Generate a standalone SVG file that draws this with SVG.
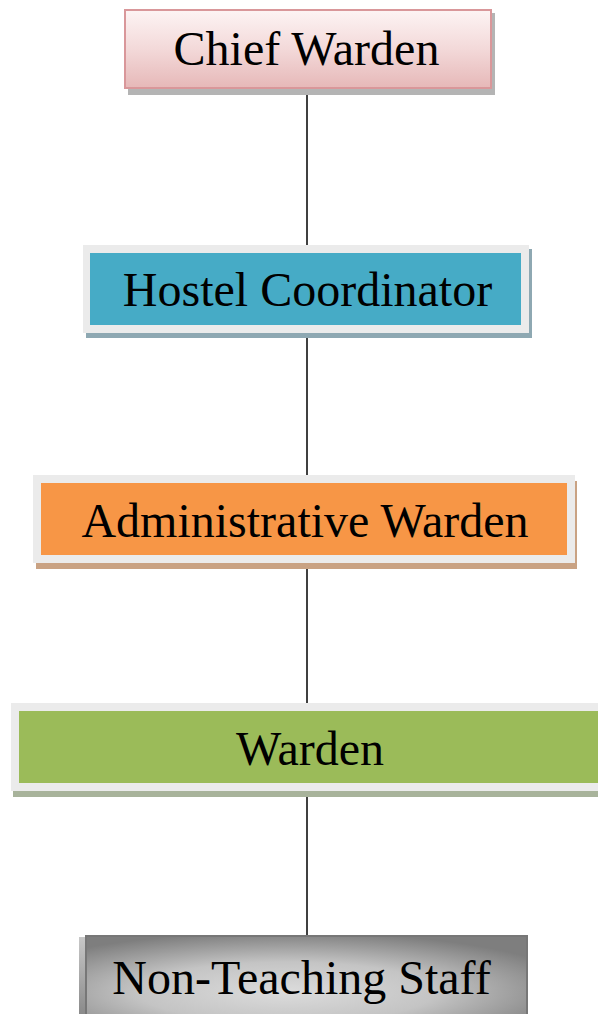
<svg xmlns="http://www.w3.org/2000/svg" width="598" height="1014" viewBox="0 0 598 1014">
<defs>
<linearGradient id="pink" x1="0" y1="0" x2="0" y2="1">
<stop offset="0" stop-color="#fdf4f4"/>
<stop offset="0.5" stop-color="#f3d9d9"/>
<stop offset="1" stop-color="#e6b8b8"/>
</linearGradient>
<radialGradient id="gray" cx="0.45" cy="0.7" r="0.75" gradientTransform="translate(0.05 0) scale(0.9 1)">
<stop offset="0" stop-color="#dcdcdc"/>
<stop offset="0.5" stop-color="#c4c4c4"/>
<stop offset="1" stop-color="#7e7e7e"/>
</radialGradient>
<linearGradient id="grayside" x1="0" y1="0" x2="0" y2="1">
<stop offset="0" stop-color="#c8c8c8"/>
<stop offset="1" stop-color="#8a8a8a"/>
</linearGradient>
</defs>
<style>
.lbl{font-family:"Liberation Serif","Times New Roman",serif;font-size:48px;fill:#000;text-anchor:middle}
.frame{fill:#ebebeb}
.conn{stroke:#000;stroke-width:1.5;fill:none}
</style>
<g id="connectors">
<line class="conn" x1="307" y1="88" x2="307" y2="937"/>
</g>
<g id="chief-warden">
<rect x="128" y="13" width="367" height="82" fill="#b4b4b4"/>
<rect x="125" y="10" width="366" height="78" fill="url(#pink)" stroke="#d9979a" stroke-width="2"/>
<text class="lbl" x="306.5" y="65">Chief Warden</text>
</g>
<g id="hostel-coordinator">
<rect x="86" y="249" width="446" height="89" fill="#8ea8b2"/>
<rect class="frame" x="83" y="245" width="446" height="88"/>
<rect x="90" y="253" width="431" height="72" fill="#46abc6"/>
<text class="lbl" x="307.5" y="306">Hostel Coordinator</text>
</g>
<g id="administrative-warden">
<rect x="36" y="481" width="541" height="88" fill="#c9a283"/>
<rect class="frame" x="33" y="475" width="542" height="88"/>
<rect x="41" y="483" width="526" height="72" fill="#f79646"/>
<text class="lbl" x="305" y="537">Administrative Warden</text>
</g>
<g id="warden">
<rect x="13" y="709" width="600" height="88" fill="#a8b39b"/>
<rect class="frame" x="11" y="703" width="600" height="88"/>
<rect x="19" y="711" width="590" height="72" fill="#9bbb59"/>
<text class="lbl" x="310" y="765">Warden</text>
</g>
<g id="non-teaching-staff">
<rect x="79" y="937" width="10" height="77" fill="url(#grayside)"/>
<rect x="86" y="936" width="441" height="80" fill="url(#gray)" stroke="#777" stroke-width="2"/>
<text class="lbl" x="301.5" y="994">Non-Teaching Staff</text>
</g>
</svg>
